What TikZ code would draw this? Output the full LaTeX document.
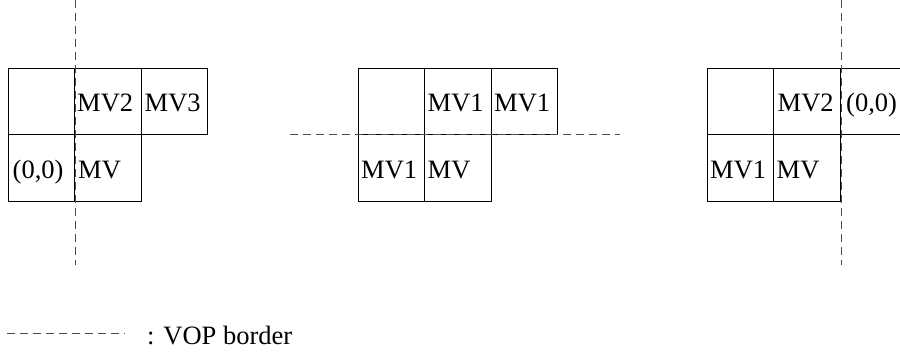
\documentclass[tikz,border=0pt]{standalone}
\usepackage{fontspec}
\usepackage{tikz}

\newfontfamily\cellfont{Liberation Serif}

\begin{document}
\begin{tikzpicture}[
            x=1pt, y=-1pt,
            cell/.style={draw, line width=0.6pt, minimum size=66.5pt, inner sep=0pt, outer sep=0pt},
            mv/.style={anchor=base west, inner sep=0pt, font=\cellfont\fontsize{26.5}{30}\selectfont},
            vop/.style={line width=0.8pt, dash pattern=on 8pt off 5pt, gray!60!black},
            declare function={
                Size=66.5;
                Top=68;
            }
        ]
            \clip (0, 0) rectangle (900, 354);

            % three groups of blocks: left, middle, right
            \foreach \g/\gx in {L/8, M/358, R/707} {
                \foreach \i in {1,2,3}
                    \node[cell] (\g\i) at ({\gx + Size * (\i - 0.5)}, {Top + Size/2}) {};
                \foreach \i in {4,5}
                    \node[cell] (\g\i) at ({\gx + Size * (\i - 3.5)}, {Top + Size * 1.5}) {};
            }

            % texts in the blocks
            \node[mv] (tL2) at ([xshift=2.5pt, yshift=-10.5pt] L2.west) {MV2};
            \node[mv] (tL3) at ([xshift=3.5pt, yshift=-10.5pt] L3.west) {MV3};
            \node[mv] (tL4) at ([xshift=4.5pt, yshift=-10.5pt] L4.west) {(0,0)};
            \node[mv] (tL5) at ([xshift=3.5pt, yshift=-10.5pt] L5.west) {MV};

            \node[mv] (tM2) at ([xshift=3pt, yshift=-10.5pt] M2.west) {MV1};
            \node[mv] (tM3) at ([xshift=3pt, yshift=-10.5pt] M3.west) {MV1};
            \node[mv] (tM4) at ([xshift=3pt, yshift=-10.5pt] M4.west) {MV1};
            \node[mv] (tM5) at ([xshift=3pt, yshift=-10.5pt] M5.west) {MV};

            \node[mv] (tR2) at ([xshift=4pt, yshift=-10.5pt] R2.west) {MV2};
            \node[mv] (tR3) at ([xshift=6pt, yshift=-10.5pt] R3.west) {(0,0)};
            \node[mv] (tR4) at ([xshift=3pt, yshift=-10.5pt] R4.west) {MV1};
            \node[mv] (tR5) at ([xshift=3pt, yshift=-10.5pt] R5.west) {MV};

            % VOP borders
            \draw[vop] (75, 0) -- (75, 265);
            \draw[vop] (290, 134.5) -- (620, 134.5);
            \draw[vop] (841, 0) -- (841, 265);

            % legend
            \coordinate (legA) at (7, 333);
            \coordinate (legB) at (125, 333);
            \draw[vop] (legA) -- (legB);
            \node[mv] (legtext) at ([xshift=22pt, yshift=-11pt] legB) {: VOP border};
\end{tikzpicture}
\end{document}
